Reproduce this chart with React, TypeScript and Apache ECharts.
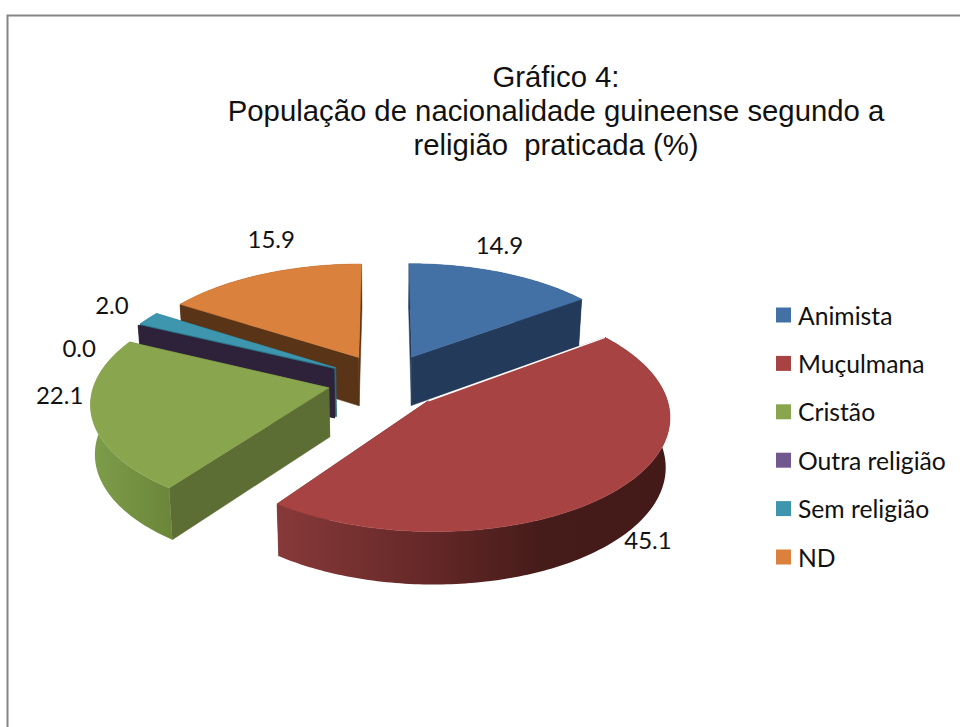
import React, { useEffect, useRef } from "react";
import * as echarts from "echarts";

const categories = ["Animista", "Muçulmana", "Cristão", "Outra religião", "Sem religião", "ND"];
const values = [14.9, 45.1, 22.1, 0.0, 2.0, 15.9];
const topColors = ["#4371a6", "#a74443", "#89a54e", "#71588f", "#3d96ae", "#d9813d"];
const wallColors = ["#243a5a", "#5a2424", "#5c6e33", "#2d2239", "#2a6a7e", "#5a3416"];
const rimStops: string[][] = [
  ["#243a5a", "#243a5a"],
  ["#873939", "#6a2a2a", "#461c1a", "#431a18"],
  ["#7e9e4b", "#6b8539"],
  ["#2d2239", "#2d2239"],
  ["#2a6a7e", "#2a6a7e"],
  ["#5a3416", "#5a3416"],
];
const labelOffsets = [[-3, -28], [30, 50], [-32, -22], [-59, 22], [-36, -14], [9, -36]];
const drawOrder = [0, 5, 4, 3, 2, 1];

const CX = 386, CY = 381, A = 234, B = 110, K = 0.12, EXPLODE = 0.25, DEPTH = 49, BOTTOM_SHRINK = 0.985;
const RAD = Math.PI / 180;

const total = values.reduce((a, b) => a + b, 0);
const starts: number[] = [];
values.reduce((acc, v, i) => { starts[i] = acc; return acc + (v / total) * 360; }, 0);

function project(X: number, Z: number, bottom: boolean): number[] {
  const s = 1 / (1 + K * Z);
  if (!bottom) return [CX + A * X * s, CY - B * Z * s];
  return [CX + A * X * s * BOTTOM_SHRINK, CY - B * Z * s + DEPTH * Math.sqrt(s)];
}

function renderSlice(idx: number) {
  return (_params: any, api: any) => {
    const v = api.value(0) as number;
    const t0 = starts[idx];
    const t1 = t0 + (v / total) * 360;
    const mid = ((t0 + t1) / 2) * RAD;
    const ax = EXPLODE * Math.sin(mid), az = EXPLODE * Math.cos(mid);
    const rimModel = (deg: number) => [ax + Math.sin(deg * RAD), az + Math.cos(deg * RAD)];
    const steps = Math.max(2, Math.ceil(t1 - t0));
    const rim: number[][] = [];
    for (let i = 0; i <= steps; i++) rim.push(rimModel(t0 + ((t1 - t0) * i) / steps));
    const topRim = rim.map((m) => project(m[0], m[1], false));
    const botRim = rim.map((m) => project(m[0], m[1], true));
    const apexT = project(ax, az, false), apexB = project(ax, az, true);
    const children: any[] = [];
    const wall = (a: number[], b: number[], c: number[], d: number[]) => ({
      type: "polygon", silent: true,
      shape: { points: [a, b, c, d] },
      style: { fill: wallColors[idx], stroke: wallColors[idx], lineWidth: 0.5 },
    });
    children.push(wall(apexT, topRim[0], botRim[0], apexB));
    children.push(wall(apexT, topRim[steps], botRim[steps], apexB));
    const stops = rimStops[idx];
    children.push({
      type: "polygon", silent: true,
      shape: { points: [...topRim, ...botRim.slice().reverse()] },
      style: {
        fill: new echarts.graphic.LinearGradient(0, 0, 1, 0,
          stops.map((color, i) => ({ offset: i / (stops.length - 1), color }))),
      },
    });
    if (v > 0) {
      children.push({
        type: "polygon", silent: true,
        shape: { points: [apexT, ...topRim] },
        style: { fill: topColors[idx], stroke: topColors[idx], lineWidth: 0.5 },
      });
    }
    if (categories[idx] === "Muçulmana") {
      children.push({
        type: "polyline", silent: true,
        shape: { points: [topRim[0], apexT] },
        style: { stroke: "#ffffff", lineWidth: 1.5, fill: "none" },
      });
    }
    const lm = rimModel((t0 + t1) / 2);
    const lp = project(lm[0], lm[1], false);
    children.push({
      type: "text", silent: true,
      style: {
        text: v.toFixed(1),
        x: lp[0] + labelOffsets[idx][0], y: lp[1] + labelOffsets[idx][1],
        fill: "#111111", font: '24px Lato, sans-serif', align: "center", verticalAlign: "middle",
      },
    });
    return { type: "group", children };
  };
}

export default function App() {
  const ref = useRef<HTMLDivElement>(null);
  useEffect(() => {
    document.body.style.margin = "0";
    const chart = echarts.init(ref.current!, undefined, { renderer: "svg" });
    chart.setOption({
      animation: false,
      backgroundColor: "#ffffff",
      title: {
        text: "Gráfico 4:\nPopulação de nacionalidade guineense segundo a\nreligião  praticada (%)",
        left: 551, top: 54, textAlign: "center",
        textStyle: { fontFamily: "Liberation Sans", fontSize: 29.3, fontWeight: "normal", lineHeight: 34, color: "#111111", align: "center" },
      },
      legend: {
        orient: "vertical", left: 771, top: 297.5,
        icon: "rect", itemWidth: 15, itemHeight: 15, itemGap: 23.4, selectedMode: false,
        data: categories,
        textStyle: { fontFamily: "Lato", fontSize: 24.7, color: "#111111", padding: [0, 0, 0, 2] },
      },
      graphic: [{
        type: "rect", silent: true, z: -1,
        shape: { x: 7.5, y: 15.5, width: 1000, height: 800 },
        style: { fill: "none", stroke: "#868686", lineWidth: 2 },
      }],
      series: drawOrder.map((idx, z) => ({
        type: "custom", name: categories[idx], coordinateSystem: "none",
        z: 2 + z, itemStyle: { color: topColors[idx] },
        data: [[values[idx]]],
        renderItem: renderSlice(idx),
      })),
    });
    return () => chart.dispose();
  }, []);
  return <div ref={ref} style={{ position: "absolute", left: 0, top: 0, width: 960, height: 727 }} />;
}
